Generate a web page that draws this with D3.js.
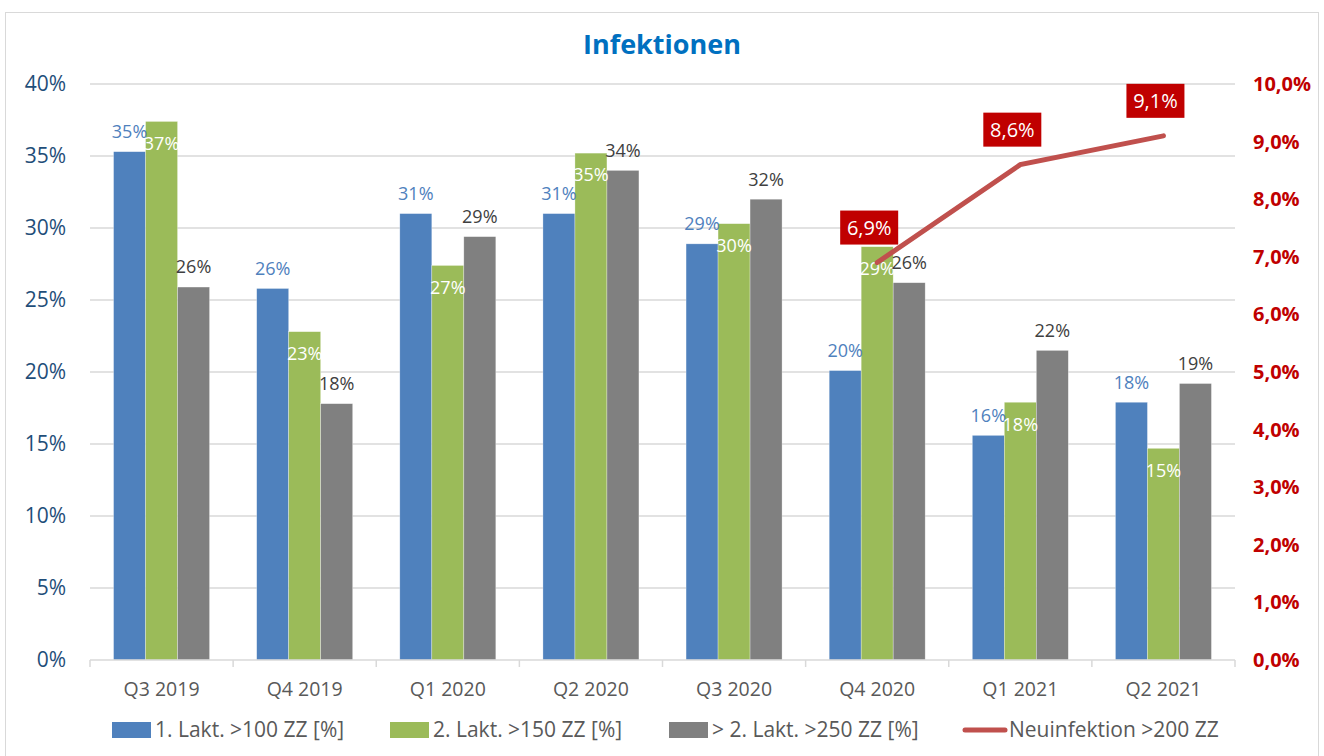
<!DOCTYPE html>
<html>
<head>
<meta charset="utf-8">
<script src="https://cdn.jsdelivr.net/npm/d3@7"></script>
<style>
  body { margin: 0; background: #fff; }
  svg text { font-family: "Open Sans", sans-serif; }
</style>
</head>
<body>
<div id="chart"></div>
<script>
// data
const quarters = ["Q3 2019", "Q4 2019", "Q1 2020", "Q2 2020", "Q3 2020", "Q4 2020", "Q1 2021", "Q2 2021"];
const lakt1 = [35.3, 25.8, 31.0, 31.0, 28.9, 20.1, 15.6, 17.9];
const lakt2 = [37.4, 22.8, 27.4, 35.2, 30.3, 28.7, 17.9, 14.7];
const lakt3 = [25.9, 17.8, 29.4, 34.0, 32.0, 26.2, 21.5, 19.2];
const neuQuarters = ["Q4 2020", "Q1 2021", "Q2 2021"];
const neuinfektion = [6.9, 8.6, 9.1];
const leftTicks = [0, 5, 10, 15, 20, 25, 30, 35, 40];
const rightTicks = [0, 1, 2, 3, 4, 5, 6, 7, 8, 9, 10];

const W = 1324, H = 756;
const plotL = 90, plotR = 1235, plotT = 84, plotB = 660;

const svg = d3.select("#chart").append("svg").attr("width", W).attr("height", H);

svg.append("rect").attr("x", 5.5).attr("y", 12.5).attr("width", 1313).attr("height", 760)
  .attr("fill", "#fff").attr("stroke", "#D9D9D9");

svg.append("text").attr("x", 662).attr("y", 54).attr("text-anchor", "middle")
  .attr("font-size", 27).attr("font-weight", "bold").attr("fill", "#0070C0")
  .text("Infektionen");

const x = d3.scaleBand().domain(quarters).range([plotL, plotR]);
const y = d3.scaleLinear().domain([0, 40]).range([plotB, plotT]);
const y2 = d3.scaleLinear().domain([0, 10]).range([plotB, plotT]);
const barW = 32;

// gridlines
svg.append("g").selectAll("line").data(leftTicks.slice(1)).enter().append("line")
  .attr("x1", plotL).attr("x2", plotR)
  .attr("y1", d => y(d)).attr("y2", d => y(d))
  .attr("stroke", "#D9D9D9").attr("stroke-width", 1.5);

// left axis
svg.append("g").selectAll("text").data(leftTicks).enter().append("text")
  .attr("x", 66).attr("y", d => y(d)).attr("dy", "0.35em").attr("text-anchor", "end")
  .attr("font-size", 21).attr("fill", "#1F4E79").text(d => d + "%");

// right axis
svg.append("g").selectAll("text").data(rightTicks).enter().append("text")
  .attr("x", 1253).attr("y", d => y2(d)).attr("dy", "0.35em")
  .attr("font-size", 20).attr("font-weight", "bold").attr("fill", "#C00000")
  .text(d => d.toFixed(1).replace(".", ",") + "%");

// bars
const series = [
  { vals: lakt1, color: "#4F81BD", label: "#4F81BD", inside: false },
  { vals: lakt2, color: "#9BBB59", label: "#FFFFFF", inside: true },
  { vals: lakt3, color: "#808080", label: "#404040", inside: false }
];
series.forEach((s, si) => {
  const off = (x.bandwidth() - 3 * barW) / 2 + si * barW;
  svg.append("g").selectAll("rect").data(s.vals).enter().append("rect")
    .attr("x", (d, i) => x(quarters[i]) + off)
    .attr("y", d => y(d))
    .attr("width", barW)
    .attr("height", d => plotB - y(d))
    .attr("fill", s.color)
    .attr("stroke", "#fff").attr("stroke-opacity", 0.5).attr("stroke-width", 0.6);
});
series.forEach((s, si) => {
  const off = (x.bandwidth() - 3 * barW) / 2 + si * barW + barW / 2;
  svg.append("g").selectAll("text").data(s.vals).enter().append("text")
    .attr("x", (d, i) => x(quarters[i]) + off)
    .attr("y", d => s.inside ? y(d) + 22 : y(d) - 20)
    .attr("dy", "0.35em").attr("text-anchor", "middle")
    .attr("font-size", 18).attr("fill", s.label)
    .text(d => Math.round(d) + "%");
});

// x axis
svg.append("line").attr("x1", plotL).attr("x2", plotR).attr("y1", plotB).attr("y2", plotB)
  .attr("stroke", "#D9D9D9").attr("stroke-width", 1.5);
svg.append("g").selectAll("line").data(quarters.concat(["end"])).enter().append("line")
  .attr("x1", (d, i) => plotL + i * x.bandwidth()).attr("x2", (d, i) => plotL + i * x.bandwidth())
  .attr("y1", plotB).attr("y2", plotB + 7)
  .attr("stroke", "#D9D9D9").attr("stroke-width", 1.5);
svg.append("g").selectAll("text").data(quarters).enter().append("text")
  .attr("x", d => x(d) + x.bandwidth() / 2).attr("y", 689).attr("dy", "0.35em")
  .attr("text-anchor", "middle").attr("font-size", 19.5).attr("fill", "#595959").text(d => d);

// line series
const line = d3.line()
  .x((d, i) => x(neuQuarters[i]) + x.bandwidth() / 2)
  .y(d => y2(d));
svg.append("path").datum(neuinfektion).attr("d", line)
  .attr("fill", "none").attr("stroke", "#C0504D").attr("stroke-width", 5).attr("stroke-linecap", "round");

const lbl = svg.append("g").selectAll("g").data(neuinfektion).enter().append("g")
  .attr("transform", (d, i) => `translate(${x(neuQuarters[i]) + x.bandwidth() / 2 - 8},${y2(d) - 35})`);
lbl.append("rect").attr("x", -29).attr("y", -17).attr("width", 58).attr("height", 34).attr("fill", "#C00000");
lbl.append("text").attr("dy", "0.35em").attr("text-anchor", "middle").attr("font-size", 20)
  .attr("fill", "#fff").text(d => d.toFixed(1).replace(".", ",") + "%");

// legend
const legend = [
  { name: "1. Lakt. >100 ZZ [%]", color: "#4F81BD", x: 112, type: "rect" },
  { name: "2. Lakt. >150 ZZ [%]", color: "#9BBB59", x: 390, type: "rect" },
  { name: "> 2. Lakt. >250 ZZ [%]", color: "#808080", x: 669, type: "rect" },
  { name: "Neuinfektion >200 ZZ", color: "#C0504D", x: 963, type: "line" }
];
const lg = svg.append("g").selectAll("g").data(legend).enter().append("g")
  .attr("transform", d => `translate(${d.x},730)`);
lg.filter(d => d.type === "rect").append("rect")
  .attr("x", 0).attr("y", -8).attr("width", 39).attr("height", 16).attr("fill", d => d.color);
lg.filter(d => d.type === "line").append("line")
  .attr("x1", 2).attr("x2", 42).attr("y1", 0).attr("y2", 0)
  .attr("stroke", d => d.color).attr("stroke-width", 5).attr("stroke-linecap", "round");
lg.append("text").attr("x", d => d.type === "line" ? 46 : 43).attr("y", 0).attr("dy", "0.35em")
  .attr("font-size", 21).attr("fill", "#595959").text(d => d.name);
</script>
</body>
</html>
